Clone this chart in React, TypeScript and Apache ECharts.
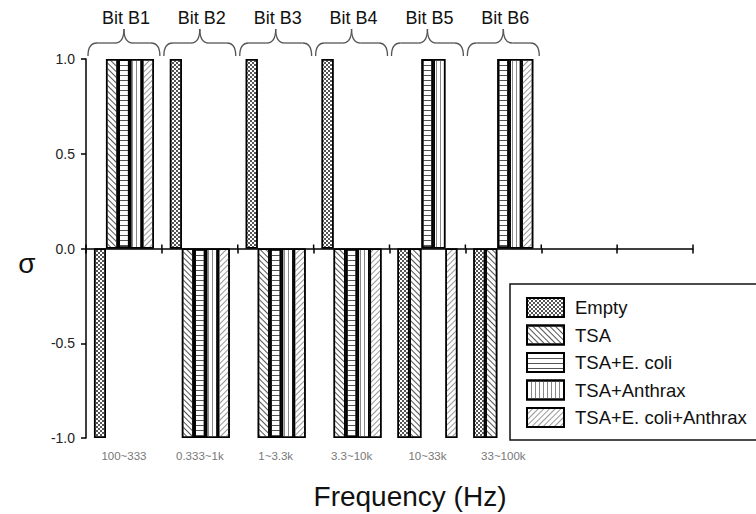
import React, { useEffect, useRef } from "react";
import * as echarts from "echarts";

const categories = ["100~333", "0.333~1k", "1~3.3k", "3.3~10k", "10~33k", "33~100k", "", ""];
const bitLabels = ["Bit B1", "Bit B2", "Bit B3", "Bit B4", "Bit B5", "Bit B6"];
const seriesNames = ["Empty", "TSA", "TSA+E. coli", "TSA+Anthrax", "TSA+E. coli+Anthrax"];
const emptyValues = [-1, 1, 1, 1, -1, -1, null, null];
const tsaValues = [1, -1, -1, -1, -1, -1, null, null];
const ecoliValues = [1, -1, -1, -1, 1, 1, null, null];
const anthraxValues = [1, -1, -1, -1, 1, 1, null, null];
const ecoliAnthraxValues = [1, -1, -1, -1, -1, 1, null, null];
const yMin = -1;
const yMax = 1;
const yInterval = 0.5;

const FONT = "'Liberation Sans', Arial, sans-serif";

const decals: any[] = [
  { symbol: "rect", symbolSize: 1, dashArrayX: [[2, 2], [0, 2, 2, 0]], dashArrayY: [2, 0], rotation: 0, color: "#555", maxTileWidth: 512, maxTileHeight: 512 },
  { symbol: "rect", symbolSize: 1, dashArrayX: [1, 0], dashArrayY: [1, 3], rotation: Math.PI / 4, color: "#555", maxTileWidth: 512, maxTileHeight: 512 },
  { symbol: "rect", symbolSize: 1, dashArrayX: [1, 0], dashArrayY: [1, 4], rotation: 0, color: "#555", maxTileWidth: 512, maxTileHeight: 512 },
  { symbol: "rect", symbolSize: 1, dashArrayX: [1, 3], dashArrayY: [2, 0], rotation: 0, color: "#888", maxTileWidth: 512, maxTileHeight: 512 },
  { symbol: "rect", symbolSize: 1, dashArrayX: [1, 0], dashArrayY: [1, 3], rotation: -Math.PI / 4, color: "#999", maxTileWidth: 512, maxTileHeight: 512 },
];
const borderWidths = [1.5, 1.5, 2, 1.5, 1.5];

const seriesData = [emptyValues, tsaValues, ecoliValues, anthraxValues, ecoliAnthraxValues];

export default function App() {
  const ref = useRef<HTMLDivElement>(null);

  useEffect(() => {
    if (!ref.current) return;
    const chart = echarts.init(ref.current, undefined, { renderer: "svg" });
    const option: any = {
      animation: false,
      backgroundColor: "#fff",
      aria: { enabled: true, label: { enabled: false }, decal: { show: true } },
      grid: { left: 86, right: 63, top: 59, bottom: 76, containLabel: false },
      legend: {
        data: seriesNames,
        orient: "vertical",
        left: 510,
        top: 284,
        padding: [13, 40, 12, 16],
        itemWidth: 37,
        itemHeight: 19,
        itemGap: 6.5,
        icon: "rect",
        borderColor: "#111",
        borderWidth: 1.5,
        borderRadius: 0,
        textStyle: { fontSize: 18.5, fontFamily: FONT, color: "#111", padding: [0, 0, 0, 6] },
      },
      xAxis: [
        {
          type: "category",
          data: categories,
          position: "bottom",
          axisLine: { show: true, onZero: true, lineStyle: { color: "#000", width: 1.5 } },
          axisTick: { show: true, length: 5, interval: 0, lineStyle: { color: "#000", width: 1.5 } },
          axisLabel: { show: false },
          splitLine: { show: false },
        },
        {
          type: "category",
          data: categories,
          position: "bottom",
          axisLine: { show: false, onZero: false },
          axisTick: { show: false },
          axisLabel: { show: true, interval: 0, fontSize: 11.5, color: "#777", fontFamily: FONT, margin: 12 },
          splitLine: { show: false },
        },
      ],
      yAxis: {
        type: "value",
        min: yMin,
        max: yMax,
        interval: yInterval,
        axisLine: { show: true, lineStyle: { color: "#000", width: 1.5 } },
        axisTick: { show: true, length: 5, lineStyle: { color: "#000", width: 1.5 } },
        axisLabel: {
          fontSize: 14,
          color: "#222",
          fontFamily: FONT,
          margin: 11,
          formatter: (v: number) => v.toFixed(1),
        },
        splitLine: { show: false },
      },
      series: seriesNames.map((name, i) => ({
        name,
        type: "bar",
        xAxisIndex: 0,
        data: seriesData[i].map((v) => (v === null ? "-" : v)),
        barGap: "0%",
        barCategoryGap: "21%",
        itemStyle: { color: "#fff", borderColor: "#000", borderWidth: borderWidths[i], decal: decals[i] },
        emphasis: { disabled: true },
      })),
    };
    chart.setOption(option);

    const c0 = chart.convertToPixel({ xAxisIndex: 0 }, 0) as number;
    const c1 = chart.convertToPixel({ xAxisIndex: 0 }, 1) as number;
    const step = c1 - c0;
    const yTopBar = chart.convertToPixel({ yAxisIndex: 0 }, yMax) as number;
    const yZero = chart.convertToPixel({ yAxisIndex: 0 }, 0) as number;
    const yEnd = yTopBar - 3;
    const yMid = yEnd - 13;
    const yTip = yMid - 14;
    const r = 9;
    const braceStyle = { stroke: "#555", lineWidth: 1.3, fill: "none" };
    const elements: any[] = [];
    // upper half of the crossing ticks on the zero axis
    for (let i = 0; i <= categories.length; i++) {
      const tx = (chart.convertToPixel({ xAxisIndex: 0 }, 0) as number) - step / 2 + i * step;
      elements.push({
        type: "line",
        shape: { x1: tx, y1: yZero - 4, x2: tx, y2: yZero },
        style: { stroke: "#000", lineWidth: 1.5 },
      });
    }
    bitLabels.forEach((label, i) => {
      const cx = chart.convertToPixel({ xAxisIndex: 0 }, i) as number;
      const x0 = cx - step / 2 + 2;
      const x1 = cx + step / 2 - 2;
      elements.push(
        { type: "bezierCurve", shape: { x1: x0, y1: yEnd, cpx1: x0, cpy1: yMid, x2: x0 + r, y2: yMid }, style: braceStyle },
        { type: "line", shape: { x1: x0 + r, y1: yMid, x2: cx - r, y2: yMid }, style: braceStyle },
        { type: "bezierCurve", shape: { x1: cx - r, y1: yMid, cpx1: cx, cpy1: yMid, x2: cx, y2: yTip }, style: braceStyle },
        { type: "bezierCurve", shape: { x1: cx + r, y1: yMid, cpx1: cx, cpy1: yMid, x2: cx, y2: yTip }, style: braceStyle },
        { type: "line", shape: { x1: cx + r, y1: yMid, x2: x1 - r, y2: yMid }, style: braceStyle },
        { type: "bezierCurve", shape: { x1: x1, y1: yEnd, cpx1: x1, cpy1: yMid, x2: x1 - r, y2: yMid }, style: braceStyle },
        {
          type: "text",
          x: cx + 2,
          y: 18,
          style: {
            text: label,
            fontSize: 18,
            fontFamily: FONT,
            fill: "#111",
            align: "center",
            verticalAlign: "middle",
            textAlign: "center",
            textVerticalAlign: "middle",
          },
        }
      );
    });
    elements.push(
      {
        type: "text",
        x: 27,
        y: 263,
        style: {
          text: "σ",
          fontSize: 28,
          fontFamily: FONT,
          fill: "#111",
          align: "center",
          verticalAlign: "middle",
          textAlign: "center",
          textVerticalAlign: "middle",
        },
      },
      {
        type: "text",
        x: 410,
        y: 496,
        style: {
          text: "Frequency (Hz)",
          fontSize: 28,
          fontFamily: FONT,
          fill: "#111",
          align: "center",
          verticalAlign: "middle",
          textAlign: "center",
          textVerticalAlign: "middle",
        },
      }
    );
    chart.setOption({ graphic: { elements } });

    return () => {
      chart.dispose();
    };
  }, []);

  return (
    <div
      ref={ref}
      style={{ position: "fixed", left: 0, top: 0, width: 756, height: 514, background: "#fff" }}
    />
  );
}
